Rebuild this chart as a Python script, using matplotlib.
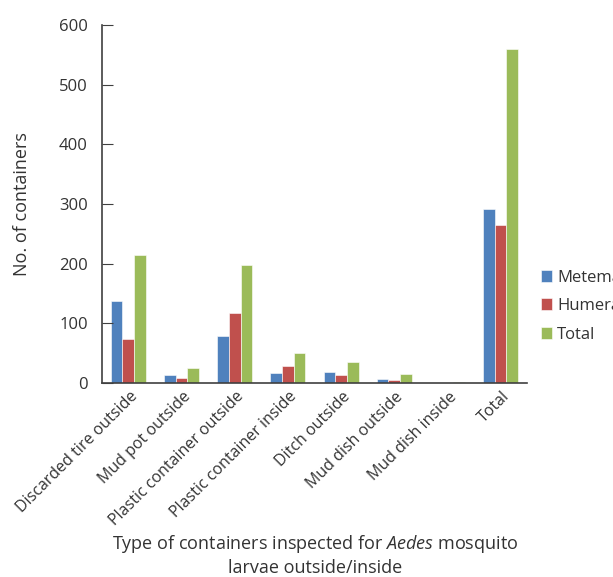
import matplotlib
matplotlib.use("Agg")
import matplotlib.pyplot as plt
import numpy as np

plt.rcParams['font.family'] = ['Open Sans', 'DejaVu Sans']
plt.rcParams['mathtext.fontset'] = 'custom'
plt.rcParams['mathtext.it'] = 'Open Sans:italic'
plt.rcParams['mathtext.rm'] = 'Open Sans'

categories = ["Discarded tire outside", "Mud pot outside", "Plastic container outside",
              "Plastic container inside", "Ditch outside", "Mud dish outside",
              "Mud dish inside", "Total"]
metema = [137, 14, 79, 17, 19, 7, 0, 292]
humera = [74, 8, 117, 29, 13, 5, 0, 265]
total = [215, 26, 198, 50, 35, 15, 2, 560]
series = ["Metema", "Humera", "Total"]
colors = ["#4F81BD", "#C0504D", "#9BBB59"]

fig = plt.figure(figsize=(6.13, 5.77), dpi=100)
ax = fig.add_axes([0.166, 0.336, 0.694, 0.621])

x = np.arange(len(categories))
w = 0.22
for i, (vals, name, c) in enumerate(zip([metema, humera, total], series, colors)):
    ax.bar(x + (i - 1) * w, vals, w, color=c, label=name, edgecolor='white', linewidth=0.4)

ax.set_xlim(-0.5, len(categories) - 0.5)
ax.set_ylim(0, 600)
ax.set_yticks(range(0, 601, 100))
ax.spines['top'].set_visible(False)
ax.spines['right'].set_visible(False)
for s in ['left', 'bottom']:
    ax.spines[s].set_color('#404040')
    ax.spines[s].set_linewidth(1.2)
ax.tick_params(axis='y', direction='in', length=8, color='#404040', labelsize=12, pad=10, labelcolor='#333333')
ax.tick_params(axis='x', length=0, labelsize=11.5, labelcolor='#333333', pad=4)
ax.set_xticks(x + 0.02)
ax.set_xticklabels(categories, rotation=45, ha='right', rotation_mode='anchor')

ax.set_ylabel("No. of containers", fontsize=13, color='#333333', labelpad=20)
fig.text(0.514, 0.038, "Type of containers inspected for $\\mathit{Aedes}$ mosquito\nlarvae outside/inside",
         ha='center', va='center', fontsize=13, color='#333333', linespacing=1.25)

ax.legend(loc='center left', bbox_to_anchor=(1.0, 0.215), frameon=False, fontsize=12,
          handlelength=0.7, handleheight=0.7, handletextpad=0.3, labelspacing=0.75,
          borderaxespad=0.4, labelcolor='#333333')

fig.savefig("out.png", dpi=100)
